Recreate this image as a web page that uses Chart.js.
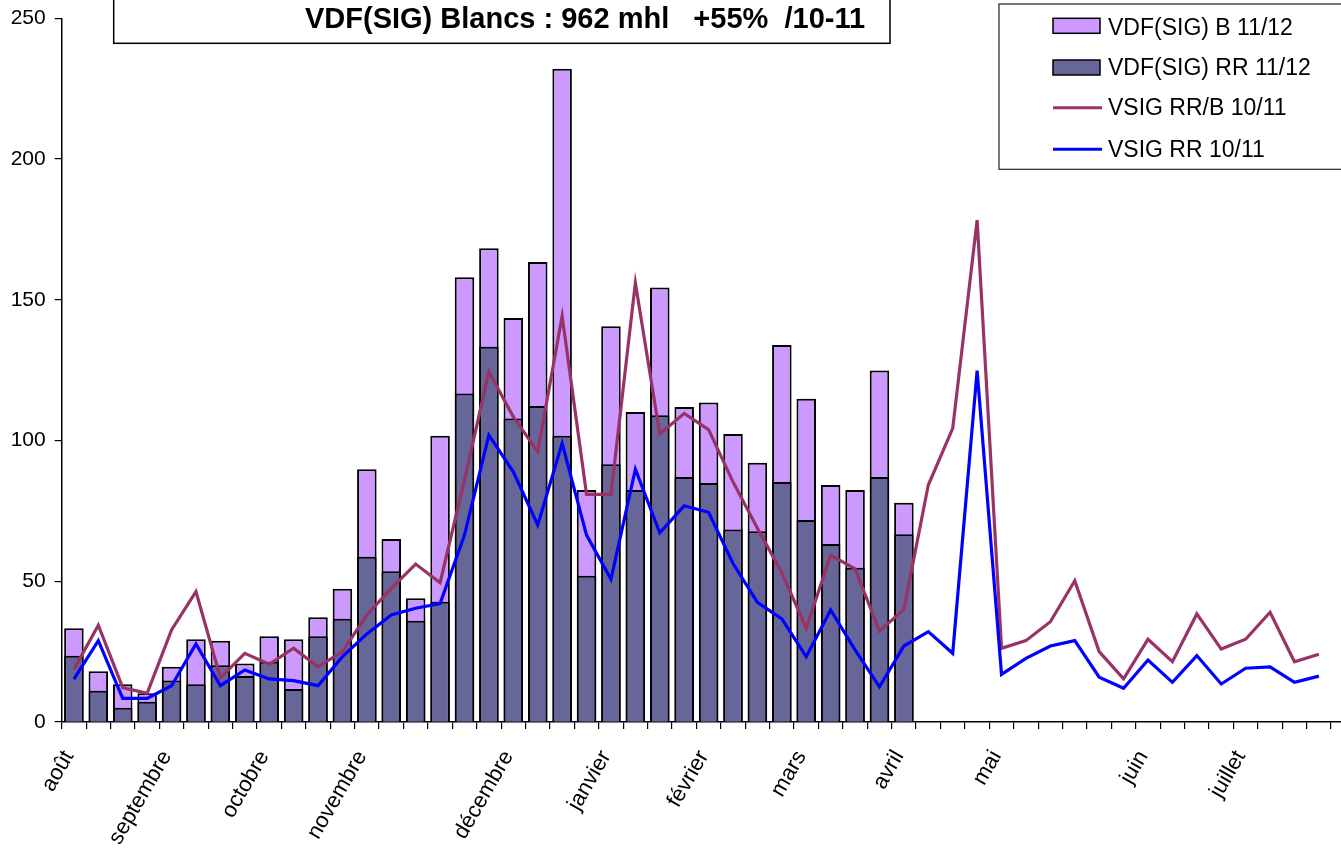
<!DOCTYPE html>
<html><head><meta charset="utf-8">
<script src="https://cdn.jsdelivr.net/npm/chart.js@4/dist/chart.umd.min.js"></script>
<style>html,body{margin:0;padding:0;background:#fff;overflow:hidden;width:1341px;height:851px}canvas{display:block}</style>
</head><body><canvas id="c" width="1366" height="851"></canvas>
<script>
const categories = ['août','','','','septembre','','','','octobre','','','','novembre','','','','','','décembre','','','','janvier','','','','février','','','','mars','','','','avril','','','','mai','','','','','','juin','','','','juillet','','','',''];
const seriesNames = ['VDF(SIG) B 11/12','VDF(SIG) RR 11/12','VSIG RR/B 10/11','VSIG RR 10/11'];
const titleText = 'VDF(SIG) Blancs : 962 mhl   +55%  /10-11';
const yTicks = [0,50,100,150,200,250];

const blancs1112 = [33.3,18.0,13.4,10.2,19.6,29.4,28.9,20.8,30.5,29.4,37.2,47.3,89.8,65.0,44.0,101.7,158.0,168.3,143.5,163.4,232.1,82.4,140.6,110.1,154.4,111.9,113.5,102.3,92.1,133.9,114.8,84.2,82.4,124.9,77.9];
const rr1112 = [23.5,11.1,5.1,7.2,14.7,13.4,20.2,16.3,21.4,11.7,30.5,36.7,58.7,53.6,36.0,42.7,116.7,133.3,107.8,112.3,101.7,52.0,91.6,82.4,109.0,87.0,84.9,68.4,67.8,85.3,71.8,63.2,54.8,87.0,66.7];
const vsigRRB1011 = [18.7,34.4,12.2,10.2,32.7,46.3,15.7,24.4,20.5,26.2,19.6,25.0,38.0,47.5,56.1,49.5,86.0,124.4,108.4,96.0,144.2,80.9,80.9,156.0,102.3,109.6,103.9,85.3,68.8,53.0,33.3,59.3,54.4,32.3,40.0,84.2,104.3,178.3,26.2,28.9,35.6,50.2,25.0,15.3,29.4,21.4,38.4,25.9,29.4,39.0,21.4,24.1];
const vsigRR1011 = [15.2,28.9,8.4,8.4,12.9,27.7,12.9,18.5,15.3,14.7,12.9,23.2,31.3,38.0,40.4,42.1,66.4,101.9,88.9,70.0,99.0,66.4,50.7,89.8,67.2,76.8,74.5,56.3,42.5,36.6,23.2,39.8,25.6,12.5,27.0,32.1,24.4,124.8,16.9,22.6,27.0,28.9,15.9,12.0,22.0,14.1,23.6,13.5,19.1,19.6,14.1,16.3];

const FONT = "'Liberation Sans', Arial, sans-serif";
const colors = {b:'#CC99FF', rr:'#666699', rrb:'#993366', blue:'#0000FF'};

const framePlugin = {
  id: 'frames',
  afterDraw(chart) {
    const c = chart.ctx;
    c.save();
    c.fillStyle = '#fff';
    c.fillRect(113.7, -5, 776.3, 48.3);
    c.strokeStyle = '#000'; c.lineWidth = 1.5;
    c.strokeRect(113.7, -5, 776.3, 48.3);
    c.fillStyle = '#000';
    c.font = 'bold 29px ' + FONT;
    c.textBaseline = 'alphabetic'; c.textAlign = 'left';
    c.fillText(titleText, 305, 28);
    c.fillStyle = '#fff';
    c.fillRect(999, 4, 420, 165.3);
    c.strokeStyle = '#222'; c.lineWidth = 1.2;
    c.strokeRect(999, 4, 420, 165.3);
    const ds = chart.data.datasets;
    const baselines = [35, 75, 115, 156.7];
    const centers = [25.8, 67.5, 107.7, 149.3];
    c.font = '23px ' + FONT;
    ds.forEach((d, i) => {
      if (d.type === 'bar') {
        c.fillStyle = d.backgroundColor;
        c.fillRect(1053, centers[i] - 7.5, 47, 15);
        c.strokeStyle = '#000'; c.lineWidth = 1.5;
        c.strokeRect(1053, centers[i] - 7.5, 47, 15);
      } else {
        c.strokeStyle = d.borderColor; c.lineWidth = 3;
        c.beginPath(); c.moveTo(1053, centers[i]); c.lineTo(1102, centers[i]); c.stroke();
      }
      c.fillStyle = '#000';
      c.fillText(d.label, 1108, baselines[i]);
    });
    c.restore();
  }
};

new Chart(document.getElementById('c'), {
  type: 'bar',
  data: {
    labels: categories,
    datasets: [
      {type:'bar', label:seriesNames[0], data:blancs1112, backgroundColor:colors.b, borderColor:'#000', borderWidth:2, grouped:false, order:3, barPercentage:0.8, categoryPercentage:1},
      {type:'bar', label:seriesNames[1], data:rr1112, backgroundColor:colors.rr, borderColor:'#000', borderWidth:2, grouped:false, order:2, barPercentage:0.8, categoryPercentage:1},
      {type:'line', label:seriesNames[2], data:vsigRRB1011, borderColor:colors.rrb, backgroundColor:colors.rrb, borderWidth:3.2, pointRadius:0, tension:0, order:1},
      {type:'line', label:seriesNames[3], data:vsigRR1011, borderColor:colors.blue, backgroundColor:colors.blue, borderWidth:3.2, pointRadius:0, tension:0, order:0}
    ]
  },
  options: {
    responsive:false, animation:false, devicePixelRatio:1,
    layout:{padding:{top:18.3, right:10.5, left:0, bottom:0}},
    plugins:{legend:{display:false}, title:{display:false}, tooltip:{enabled:false}},
    scales:{
      x:{
        grid:{display:true, drawOnChartArea:false, drawTicks:true, tickLength:7, color:'#000', lineWidth:1.2, offset:true},
        border:{display:true, color:'#000', width:1.5},
        ticks:{autoSkip:false, maxRotation:60, minRotation:60, color:'#000', font:{family:FONT, size:22}, padding:17, labelOffset:-5},
        afterFit(s){ s.height = 129; s.paddingLeft = 0; s.paddingRight = 0; }
      },
      y:{
        min:0, max:250,
        afterBuildTicks(s){ s.ticks = yTicks.map(v => ({value:v})); },
        grid:{display:true, drawOnChartArea:false, drawTicks:true, tickLength:7, color:'#000', lineWidth:1.2},
        border:{display:true, color:'#000', width:1.5},
        ticks:{color:'#000', font:{family:FONT, size:21}, padding:9},
        afterFit(s){ s.width = 61.7; s.paddingTop = 0; s.paddingBottom = 0; }
      }
    }
  },
  plugins:[framePlugin]
});
</script>
</body></html>
